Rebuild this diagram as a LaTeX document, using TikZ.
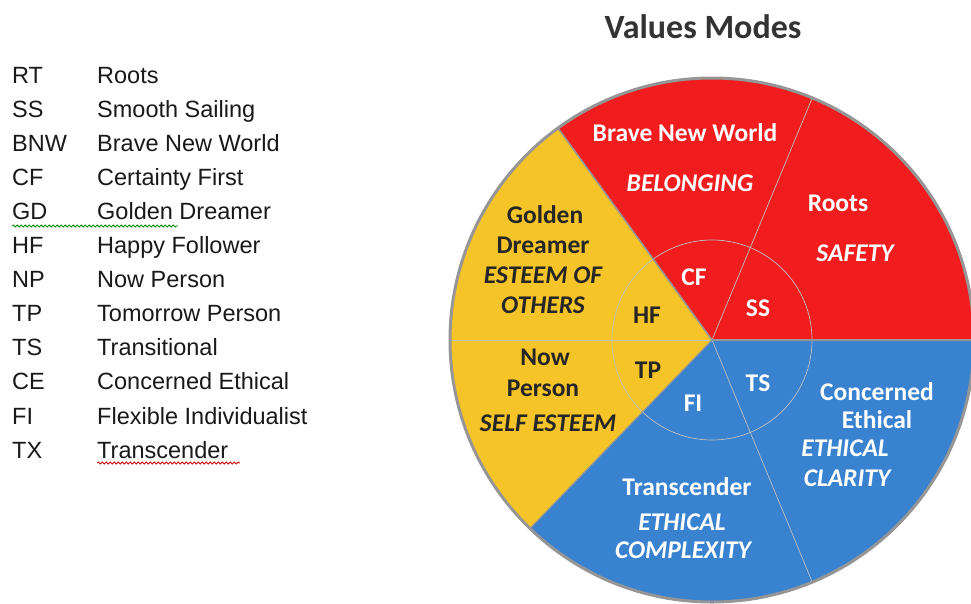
\documentclass[tikz,border=0pt]{standalone}
\usepackage{fontspec}
\usepackage{tikz}
\usetikzlibrary{decorations.pathmorphing}
\newfontfamily\calibri{Carlito}
\newfontfamily\arial{Liberation Sans}
\definecolor{piered}{RGB}{240,28,30}
\definecolor{pieyellow}{RGB}{245,196,40}
\definecolor{pieblue}{RGB}{56,130,208}
\definecolor{rimgray}{RGB}{150,150,150}
\tikzstyle{wlabel} = [anchor=base, text=white, font={\calibri\bfseries\fontsize{25.5}{30}\selectfont}]
\tikzstyle{klabel} = [wlabel, text=black!85]
\tikzstyle{leglabel} = [anchor=base west, inner sep=0, text=black!90, font={\arial\fontsize{23.5}{28}\selectfont}]
\tikzstyle{squig} = [decorate, decoration={snake, amplitude=1pt, segment length=4pt}, line width=0.8pt]
\tikzset{font={\small}}

\begin{document}
\begin{tikzpicture}[x=1pt, y=-1pt]
  \useasboundingbox (0,0) rectangle (971,603);
  \fill[white] (0,0) rectangle (971,603);

  % legend
  \foreach \ab/\nm [count=\i from 0] in {RT/Roots, SS/Smooth Sailing, BNW/Brave New World,
      CF/Certainty First, GD/Golden Dreamer, HF/Happy Follower, NP/Now Person,
      TP/Tomorrow Person, TS/Transitional, CE/Concerned Ethical,
      FI/Flexible Individualist, TX/Transcender} {
    \node[leglabel, name=ab\i, at={(12,83+34.1*\i)}] {\ab};
    \node[leglabel, name=nm\i, at={(97,83+34.1*\i)}] {\nm};
  }
  \draw[squig, green!55!black] (12,226) -- (178,226);
  \draw[squig, red!80!black] (97,463) -- (240,463);

  \node[name=title, at={(703,38)}, anchor=base, text=black!80,
        font={\calibri\bfseries\fontsize{34}{40}\selectfont}] {Values Modes};

  % the pie
  \begin{scope}[shift={(712,340)}, y=1pt]
    \fill[pieyellow] (0,0) -- (126:262) arc (126:226:262) -- cycle;
    \fill[piered] (0,0) -- (0:262) arc (0:126:262) -- cycle;
    \fill[pieblue] (0,0) -- (226:262) arc (226:360:262) -- cycle;
    \draw[rimgray!60, line width=0.7pt] (0,0) circle (100);
    \draw[rimgray!60, line width=0.7pt] (0,0) -- (67.5:262);
    \draw[rimgray!60, line width=0.7pt] (0,0) -- (180:262);
    \draw[rimgray!60, line width=0.7pt] (0,0) -- (292.5:262);
    \draw[rimgray, line width=1.6pt] (0,0) -- (126:262);
    \draw[rimgray, line width=1.2pt] (0,0) -- (226:262);
    \draw[rimgray, line width=1.2pt] (0,0) -- (0:262);
    \draw[rimgray, line width=3pt] (0,0) circle (262);
  \end{scope}

  \node[wlabel, name=bnw, at={(685,141)}] {Brave New World};
  \node[wlabel, name=bnwv, at={(690,191)}] {\itshape BELONGING};
  \node[wlabel, name=rt, at={(838,211)}] {Roots};
  \node[wlabel, name=rtv, at={(855,261)}] {\itshape SAFETY};

  \node[klabel, name=gd1, at={(545,223)}] {Golden};
  \node[klabel, name=gd2, at={(543,253)}] {Dreamer};
  \node[klabel, name=gdv1, at={(543,283)}] {\itshape ESTEEM OF};
  \node[klabel, name=gdv2, at={(543,313)}] {\itshape OTHERS};

  \node[klabel, name=np1, at={(545,365)}] {Now};
  \node[klabel, name=np2, at={(543,396)}] {Person};
  \node[klabel, name=npv, at={(548,431)}] {\itshape SELF ESTEEM};

  \node[wlabel, name=ce1, at={(877,400)}] {Concerned};
  \node[wlabel, name=ce2, at={(877,428)}] {Ethical};
  \node[wlabel, name=cev1, at={(845,456)}] {\itshape ETHICAL};
  \node[wlabel, name=cev2, at={(847,486)}] {\itshape CLARITY};

  \node[wlabel, name=tx, at={(687,495)}] {Transcender};
  \node[wlabel, name=txv1, at={(682,530)}] {\itshape ETHICAL};
  \node[wlabel, name=txv2, at={(683,558)}] {\itshape COMPLEXITY};

  \node[wlabel, name=cf, at={(694,285)}] {CF};
  \node[wlabel, name=ss, at={(758,316)}] {SS};
  \node[klabel, name=hf, at={(647,323)}] {HF};
  \node[klabel, name=tp, at={(648,378)}] {TP};
  \node[wlabel, name=fi, at={(693,411)}] {FI};
  \node[wlabel, name=ts, at={(758,391)}] {TS};

\end{tikzpicture}
\end{document}
